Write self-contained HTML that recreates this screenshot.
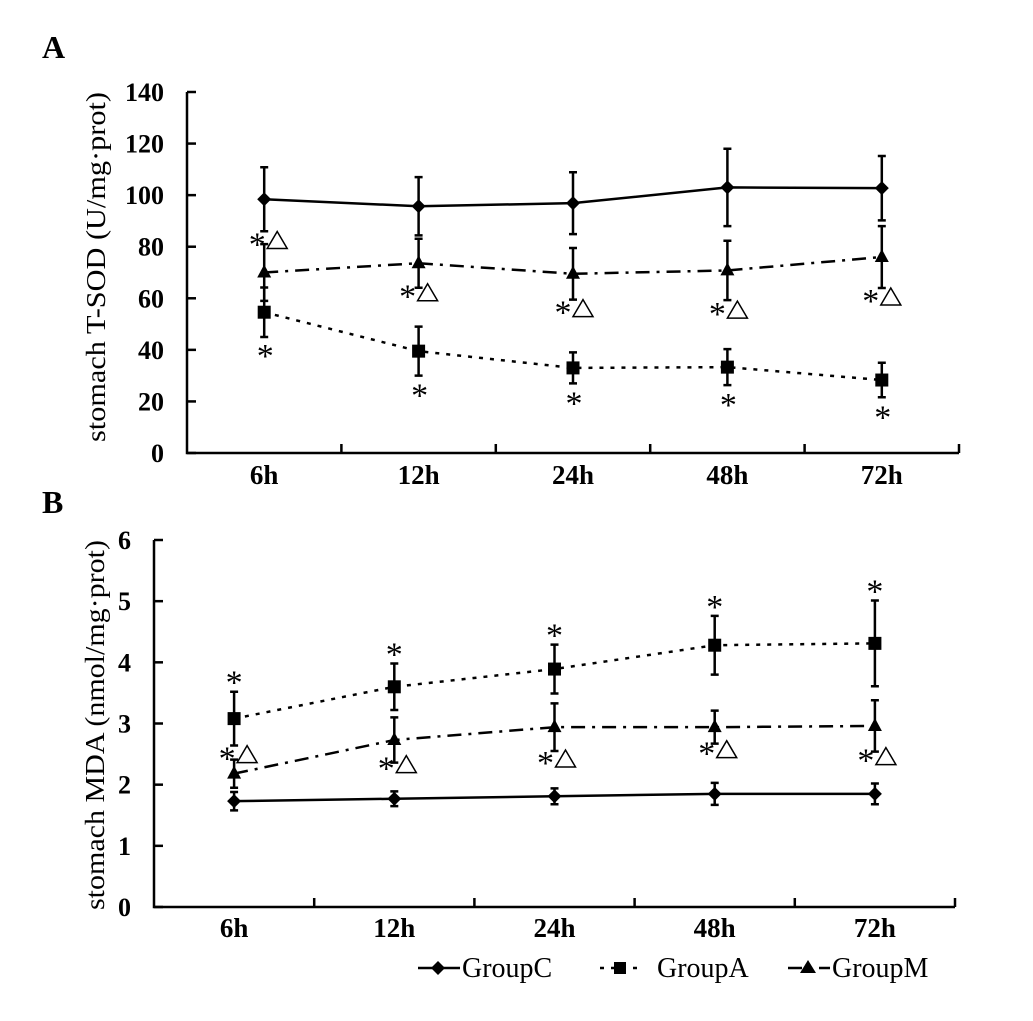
<!DOCTYPE html>
<html><head><meta charset="utf-8">
<style>
html,body{margin:0;padding:0;background:#fff;}
svg{display:block;}
text{font-family:"Liberation Serif",serif;fill:#000;}
</style></head>
<body>
<svg id="chart" width="1033" height="1021" viewBox="0 0 1033 1021" xmlns="http://www.w3.org/2000/svg"></svg>
<script>
const categories = ["6h","12h","24h","48h","72h"];
// Panel A: T-SOD
const sodC = [98.4, 95.7, 96.9, 103, 102.7];
const sodCErr = [12.4, 11.3, 12, 15, 12.5];
const sodA = [54.6, 39.5, 33, 33.3, 28.3];
const sodAErr = [9.6, 9.5, 6, 7, 6.7];
const sodM = [70, 73.6, 69.5, 70.8, 76];
const sodMErr = [11, 9.5, 10, 11.5, 12];
const sodTicks = [0,20,40,60,80,100,120,140];
// Panel B: MDA
const mdaC = [1.73, 1.77, 1.81, 1.85, 1.85];
const mdaCErr = [0.15, 0.12, 0.13, 0.18, 0.17];
const mdaA = [3.08, 3.6, 3.89, 4.28, 4.31];
const mdaAErr = [0.44, 0.38, 0.4, 0.48, 0.7];
const mdaM = [2.18, 2.73, 2.94, 2.94, 2.96];
const mdaMErr = [0.23, 0.37, 0.39, 0.27, 0.42];
const mdaTicks = [0,1,2,3,4,5,6];

const NS="http://www.w3.org/2000/svg";
const svg=document.getElementById('chart');
function mk(tag,attrs,parent){const e=document.createElementNS(NS,tag);for(const k in attrs)e.setAttribute(k,attrs[k]);(parent||svg).appendChild(e);return e;}

function star(g,cx,cy){
  const t=mk('text',{x:cx,y:cy+15,'text-anchor':'middle','font-size':34},g);
  t.textContent='*';
  
  
}
function tri(g,cx,cy){
  const p=mk('path',{d:`M${cx},${cy-9} L${cx+10},${cy+8} L${cx-10},${cy+8}Z`,fill:'#fff',stroke:'#000','stroke-width':1.5},g);
  
  
}

function panel(cfg){
  const g=mk('g',{});
  
  
  const x0=cfg.x0,x1=cfg.x1,yTop=cfg.yTop,yBot=cfg.yBot,max=cfg.max;
  const n=categories.length, bw=(x1-x0)/n;
  const xs=i=>x0+bw*(i+0.5);
  const ys=v=>yBot-(v/max)*(yBot-yTop);
  const ax=mk('path',{d:`M${x0},${yTop} V${yBot} H${x1}`,stroke:'#000','stroke-width':2.5,fill:'none'},g);
  
  
  cfg.ticks.forEach(t=>{
    const y=ys(t);
    const tk=mk('line',{x1:x0,x2:x0+9,y1:y,y2:y,stroke:'#000','stroke-width':2.5},g);
    
    
    const tl=mk('text',{x:cfg.tickX,y:y+9,'text-anchor':'end','font-size':26,'font-weight':'bold'},g);
    tl.textContent=t;
    
    
  });
  for(let i=1;i<=n;i++){
    const x=x0+bw*i;
    const tk=mk('line',{x1:x,x2:x,y1:yBot,y2:yBot-9,stroke:'#000','stroke-width':2.5},g);
    
    
  }
  categories.forEach((c,i)=>{
    const t=mk('text',{x:xs(i),y:cfg.catY,'text-anchor':'middle','font-size':27,'font-weight':'bold'},g);
    t.textContent=c;
    
    
  });
  const yl=mk('text',{x:0,y:0,'text-anchor':'middle','font-size':27,textLength:cfg.labelLen,lengthAdjust:'spacingAndGlyphs',transform:`translate(${cfg.labelX},${cfg.labelY}) rotate(-90)`},g);
  yl.textContent=cfg.ylabel;
  
  
  const pl=mk('text',{x:42,y:cfg.letterY,'font-size':32,'font-weight':'bold'},g);
  pl.textContent=cfg.letter;
  
  

  cfg.series.forEach(s=>{
    const sg=mk('g',{},g);
    
    
    const pts=s.vals.map((v,i)=>[xs(i),ys(v)]);
    const ln=mk('polyline',{points:pts.map(p=>p.join(',')).join(' '),fill:'none',stroke:'#000','stroke-width':2.5,'stroke-dasharray':s.dash},sg);
    
    
    s.vals.forEach((v,i)=>{
      const x=xs(i), yt=ys(v+s.err[i]), yb=ys(v-s.err[i]);
      const eb=mk('path',{d:`M${x},${yt} V${yb} M${x-4},${yt} H${x+4} M${x-4},${yb} H${x+4}`,stroke:'#000','stroke-width':2.5,fill:'none'},sg);
      
      
      const y=ys(v);
      let m;
      if(s.marker==='d') m=mk('path',{d:`M${x},${y-7} L${x+7},${y} L${x},${y+7} L${x-7},${y}Z`,fill:'#000'},sg);
      else if(s.marker==='s') m=mk('rect',{x:x-6.5,y:y-6.5,width:13,height:13,fill:'#000'},sg);
      else m=mk('path',{d:`M${x},${y-8} L${x+7},${y+5} L${x-7},${y+5}Z`,fill:'#000'},sg);
      
      
    });
  });
  cfg.notes.forEach(nt=>{
    const s=cfg.series[nt.s];
    const i=nt.i, v=s.vals[i];
    const base = nt.pos==='below'? ys(v-s.err[i]) : nt.pos==='above'? ys(v+s.err[i]) : ys(v);
    const cx=xs(i)+nt.dx, cy=base+nt.dy;
    star(g,cx,cy);
    if(nt.tri) tri(g,cx+20,cy);
  });
}

const DASH_A='4,7', DASH_M='14,7,3,7';
panel({name:'panel-a',letter:'A',letterY:58,x0:187,x1:959,yTop:92,yBot:453,max:140,ticks:sodTicks,tickX:164,
  catY:484,labelX:105,labelY:267,labelLen:350,ylabel:'stomach T-SOD (U/mg·prot)',
  series:[{key:'groupc',vals:sodC,err:sodCErr,marker:'d',dash:'none'},
          {key:'groupa',vals:sodA,err:sodAErr,marker:'s',dash:DASH_A},
          {key:'groupm',vals:sodM,err:sodMErr,marker:'t',dash:DASH_M}],
  notes:[{s:2,i:0,pos:'pt',dx:-7,dy:-32,tri:1},
         {s:2,i:1,pos:'below',dx:-11,dy:5,tri:1},
         {s:2,i:2,pos:'below',dx:-10,dy:9,tri:1},
         {s:2,i:3,pos:'below',dx:-10,dy:10,tri:1},
         {s:2,i:4,pos:'below',dx:-11,dy:9,tri:1},
         {s:1,i:0,pos:'below',dx:1,dy:15},
         {s:1,i:1,pos:'below',dx:1,dy:16},
         {s:1,i:2,pos:'below',dx:1,dy:16},
         {s:1,i:3,pos:'below',dx:1,dy:16},
         {s:1,i:4,pos:'below',dx:1,dy:16}]
});
panel({name:'panel-b',letter:'B',letterY:513,x0:154,x1:955,yTop:540,yBot:907,max:6,ticks:mdaTicks,tickX:131,
  catY:937,labelX:104,labelY:725,labelLen:370,ylabel:'stomach MDA (nmol/mg·prot)',
  series:[{key:'groupc',vals:mdaC,err:mdaCErr,marker:'d',dash:'none'},
          {key:'groupa',vals:mdaA,err:mdaAErr,marker:'s',dash:DASH_A},
          {key:'groupm',vals:mdaM,err:mdaMErr,marker:'t',dash:DASH_M}],
  notes:[{s:2,i:0,pos:'pt',dx:-7,dy:-19,tri:1},
         {s:2,i:1,pos:'below',dx:-8,dy:2,tri:1},
         {s:2,i:2,pos:'below',dx:-9,dy:8,tri:1},
         {s:2,i:3,pos:'below',dx:-8,dy:6,tri:1},
         {s:2,i:4,pos:'below',dx:-9,dy:5,tri:1},
         {s:1,i:0,pos:'above',dx:0,dy:-13},
         {s:1,i:1,pos:'above',dx:0,dy:-13},
         {s:1,i:2,pos:'above',dx:0,dy:-13},
         {s:1,i:3,pos:'above',dx:0,dy:-13},
         {s:1,i:4,pos:'above',dx:0,dy:-13}]
});

// legend
const lg=mk('g',{});


const legendNames=["GroupC","GroupA","GroupM"];
const legendX=[418,600,788];
const legendDash=['none','4,7','14,7,3,7'];
const legendMarker=['d','s','t'];
const legendTextX=[462,657,832];
legendNames.forEach((nm,k)=>{
  const eg=mk('g',{},lg);
  
  
  const x=legendX[k], y=968;
  mk('line',{x1:x,x2:x+42,y1:y,y2:y,stroke:'#000','stroke-width':2.5,'stroke-dasharray':legendDash[k]},eg);
  const cx=x+20;
  if(legendMarker[k]==='d') mk('path',{d:`M${cx},${y-7} L${cx+7},${y} L${cx},${y+7} L${cx-7},${y}Z`,fill:'#000'},eg);
  else if(legendMarker[k]==='s') mk('rect',{x:cx-6,y:y-6,width:12,height:12,fill:'#000'},eg);
  else mk('path',{d:`M${cx},${y-8} L${cx+8},${y+5} L${cx-8},${y+5}Z`,fill:'#000'},eg);
  const t=mk('text',{x:legendTextX[k],y:y+9,'font-size':28},eg);
  t.textContent=nm;
});
</script>
</body></html>
